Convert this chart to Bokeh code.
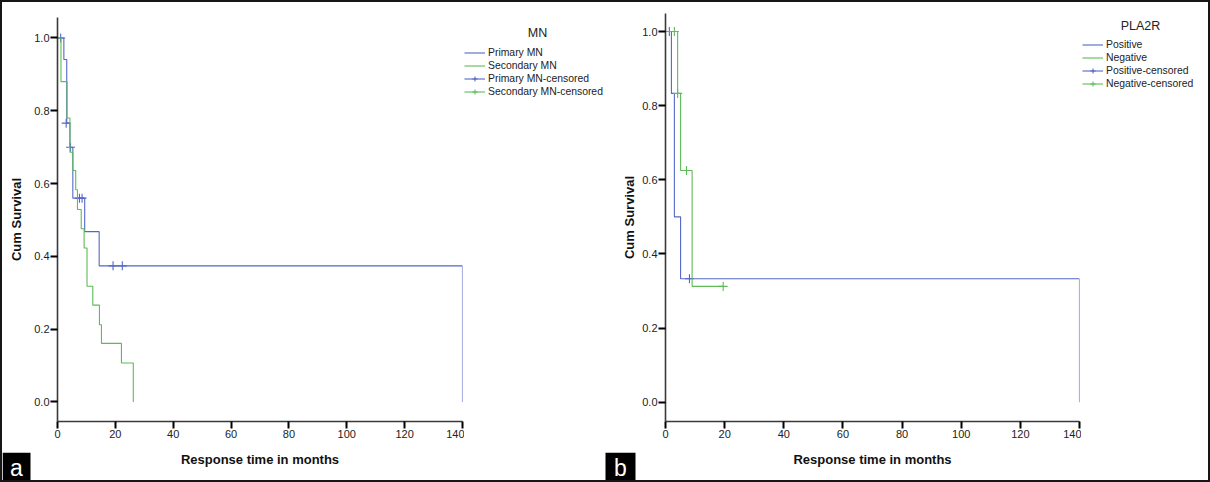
from bokeh.plotting import figure
from bokeh.layouts import row, column
from bokeh.models import (Range1d, FixedTicker, PrintfTickFormatter, Legend, LegendItem,
                          Label, BoxAnnotation, Spacer)
from bokeh.embed import file_html
from bokeh.resources import INLINE

# ---------------- data ----------------
# Panel a: MN
primary_t = [0, 2.2, 3.2, 4.3, 5.3, 9.4, 14.4, 140]
primary_s = [1.0, 0.941, 0.766, 0.70, 0.56, 0.468, 0.374, 0.0]
primary_cens_t = [1.1, 3.0, 4.5, 7.6, 8.5, 19.2, 22.4]
primary_cens_s = [1.0, 0.766, 0.70, 0.56, 0.56, 0.374, 0.374]
secondary_t = [0, 1.2, 3.3, 4.3, 5.3, 6.3, 6.9, 8.2, 9.2, 10.2, 12.2, 14.5, 15.2, 22.1, 26.2]
secondary_s = [1.0, 0.88, 0.78, 0.686, 0.636, 0.583, 0.529, 0.476, 0.423, 0.318, 0.266, 0.212, 0.161, 0.107, 0.0]
secondary_cens_t = []
secondary_cens_s = []

# Panel b: PLA2R
positive_t = [0, 2.0, 3.0, 5.1, 140]
positive_s = [1.0, 0.833, 0.50, 0.333, 0.0]
positive_cens_t = [1.3, 8.1]
positive_cens_s = [1.0, 0.333]
negative_t = [0, 4.1, 5.1, 9.0, 19.5]
negative_s = [1.0, 0.833, 0.625, 0.3125, 0.3125]
negative_cens_t = [3.0, 4.1, 7.1, 19.5]
negative_cens_s = [1.0, 0.833, 0.625, 0.3125]

x_ticks = [0, 20, 40, 60, 80, 100, 120, 140]
y_ticks = [0.0, 0.2, 0.4, 0.6, 0.8, 1.0]

BLUE = "#5467c6"
GREEN = "#5fbb57"
FONT = "Liberation Sans"
INK = "#111111"
NAN = float("nan")


def blank(w, h):
    f = figure(width=w, height=h, output_backend="svg", toolbar_location=None,
               x_range=Range1d(0, w), y_range=Range1d(0, h),
               x_axis_type=None, y_axis_type=None,
               min_border_left=0, min_border_right=0, min_border_top=0, min_border_bottom=0)
    f.outline_line_color = None
    f.grid.visible = False
    f.background_fill_color = "white"
    f.border_fill_color = "white"
    return f


def plot_panel(width, height, bl, br, bt, bb, ymin, ymax, title_standoff, series):
    p = figure(width=width, height=height, output_backend="svg", toolbar_location=None,
               x_range=Range1d(0, 140), y_range=Range1d(ymin, ymax),
               min_border_left=bl, min_border_right=br, min_border_top=bt, min_border_bottom=bb)
    p.outline_line_color = None
    p.grid.visible = False
    p.background_fill_color = "white"
    p.border_fill_color = "white"
    for ax in (p.xaxis[0], p.yaxis[0]):
        ax.axis_line_color = "#3a3a3a"
        ax.axis_line_width = 1.6
        ax.major_tick_line_color = "black"
        ax.major_tick_line_width = 2
        ax.major_tick_in = 0
        ax.major_tick_out = 7
        ax.minor_tick_line_color = None
        ax.major_label_text_font = FONT
        ax.major_label_text_font_size = "11px"
        ax.major_label_text_color = "#222222"
        ax.major_label_standoff = 1
        ax.axis_label_text_font = FONT
        ax.axis_label_text_font_size = "13px"
        ax.axis_label_text_font_style = "bold"
        ax.axis_label_text_color = INK
    p.xaxis[0].ticker = FixedTicker(ticks=x_ticks)
    p.yaxis[0].ticker = FixedTicker(ticks=y_ticks)
    p.yaxis[0].formatter = PrintfTickFormatter(format="%.1f")
    p.yaxis[0].axis_label = "Cum Survival"
    p.yaxis[0].axis_label_standoff = title_standoff
    for name, t, s, ct, cs, color in series:
        p.step(t, s, mode="after", line_color=color, line_width=1.1)
        p.scatter(ct, cs, marker="cross", size=9, line_color=color, line_width=1.1)
    return p


def legend_panel(width, height, names, title, lx, ly, tx, ty):
    # the frame of this figure is aligned with the neighbouring plot's frame
    f = blank(width, height)
    line_items, cens_items = [], []
    for name, color in names:
        # placeholder renderers (no visible marks) that only supply legend swatches
        r = f.step(x=[NAN], y=[NAN], mode="after", line_color=color, line_width=1.1)
        h = f.line(x=[NAN], y=[NAN], line_color=color, line_width=1.1)
        c = f.scatter(x=[NAN], y=[NAN], marker="cross", size=9, line_color=color, line_width=1.1)
        line_items.append(LegendItem(label=name, renderers=[r]))
        cens_items.append(LegendItem(label=name + "-censored", renderers=[h, c]))
    leg = Legend(items=line_items + cens_items, location=(lx, ly), padding=0, margin=0, spacing=0,
                 glyph_width=21, glyph_height=13, label_height=13, label_standoff=3,
                 label_text_font=FONT, label_text_font_size="10.4px", label_text_color="#222222",
                 border_line_color=None, background_fill_alpha=0)
    f.add_layout(leg, "center")
    f.add_layout(Label(x=tx, y=ty, x_units="screen", y_units="screen", text=title,
                       text_align="center", text_baseline="middle", text_font=FONT,
                       text_font_size="12.5px", text_color="#222222"))
    return f


def bottom_strip(width, height, letter, box_left, box_w, title_x):
    f = blank(width, height)
    f.add_layout(BoxAnnotation(left=box_left, right=box_left + box_w, bottom=0, top=height,
                               fill_color="black", fill_alpha=1, line_color=None))
    f.add_layout(Label(x=box_left + box_w / 2, y=height / 2 - 1, text=letter, text_align="center",
                       text_baseline="middle", text_font=FONT, text_font_size="23px",
                       text_color="white"))
    f.add_layout(Label(x=title_x, y=height - 7, text="Response time in months", text_align="center",
                       text_baseline="middle", text_font=FONT, text_font_size="13px",
                       text_font_style="bold", text_color=INK))
    return f


TOP_H = 450   # canvas rows 2..452
BOT_H = 28    # canvas rows 452..480

# ---- left half (canvas x 2..604); plot frame rows 17..421 ----
p1 = plot_panel(462, TOP_H, 55, 2, 15, 31, -0.0536, 1.0563, 7,
                [("Primary MN", primary_t, primary_s, primary_cens_t, primary_cens_s, BLUE),
                 ("Secondary MN", secondary_t, secondary_s, secondary_cens_t, secondary_cens_s, GREEN)])
leg1 = legend_panel(140, TOP_H, [("Primary MN", BLUE), ("Secondary MN", GREEN)], "MN",
                    0, 323, 73, 389)
bot1 = bottom_strip(602, BOT_H, "a", 0, 28, 257.5)
left_half = column(row(p1, leg1), bot1)

# ---- right half (canvas x 604..1208); plot frame rows 13..421 ----
p2 = plot_panel(477, TOP_H, 61, 2, 11, 31, -0.052, 1.0486, 2,
                [("Positive", positive_t, positive_s, positive_cens_t, positive_cens_s, BLUE),
                 ("Negative", negative_t, negative_s, negative_cens_t, negative_cens_s, GREEN)])
leg2 = legend_panel(127, TOP_H, [("Positive", BLUE), ("Negative", GREEN)], "PLA2R",
                    1, 331, 59, 396)
bot2 = bottom_strip(604, BOT_H, "b", 1, 30, 268)
right_half = column(row(p2, leg2), bot2)

edge = {"background-color": "#161616"}
layout = column(
    Spacer(width=1210, height=2, styles=edge),
    row(Spacer(width=2, height=478, styles=edge), left_half, right_half,
        Spacer(width=2, height=478, styles=edge)),
    Spacer(width=1210, height=2, styles=edge),
)
open("out.html", "w").write(file_html(layout, INLINE))
